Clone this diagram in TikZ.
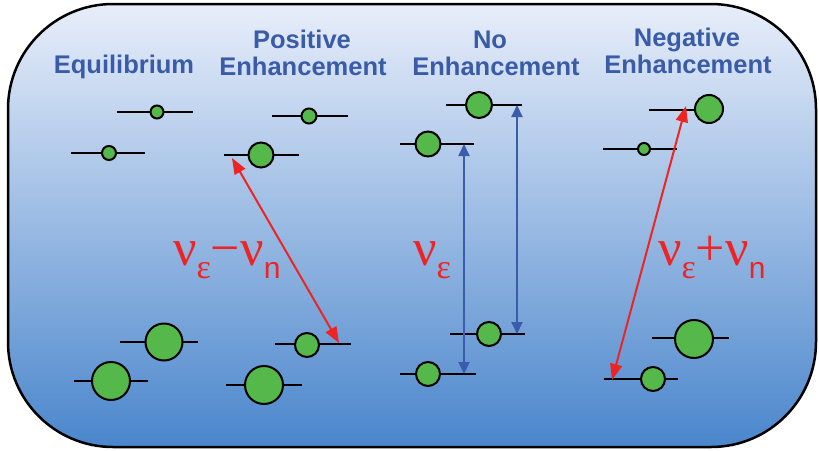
\documentclass[tikz,border=0pt]{standalone}
\usepackage{fontspec}
\setmainfont{Liberation Sans}
\newfontfamily\labfont{Liberation Sans}
\newfontfamily\grkfont{Liberation Serif}
\usetikzlibrary{arrows.meta}
\definecolor{topbg}{HTML}{E8EEFA}
\definecolor{midbg}{HTML}{98BDE6}
\definecolor{botbg}{HTML}{4A86CC}
\definecolor{titleblue}{HTML}{3A5CA8}
\definecolor{atomgreen}{HTML}{55B84A}
\definecolor{arrred}{HTML}{EE2424}
\definecolor{arrblue}{HTML}{3A5CAA}
\tikzset{
  lvl/.style={line width=2pt, black},
  atom/.style={circle, draw=black, line width=2pt, fill=atomgreen, inner sep=0pt},
  titlelbl/.style={font=\labfont\bfseries\fontsize{25.5}{27}\selectfont, text=titleblue, align=center, inner sep=0pt},
  redarr/.style={arrred, line width=2pt, {Triangle[length=16pt,width=12pt]}-{Triangle[length=16pt,width=12pt]}},
  bluearr/.style={arrblue, line width=2pt, {Triangle[length=12pt,width=11pt]}-{Triangle[length=12pt,width=11pt]}},
  mathlbl/.style={text=arrred, inner sep=0pt, anchor=base west}
}
\newcommand{\bignu}{{\grkfont\fontsize{52}{52}\selectfont ν}}
\newcommand{\subeps}{\raisebox{-13pt}{\grkfont\fontsize{34}{34}\selectfont ε}}
\newcommand{\subn}{\raisebox{-13pt}{\labfont\fontsize{30}{30}\selectfont n}}
\begin{document}
\begin{tikzpicture}[x=1pt,y=-1pt]
\useasboundingbox (0,0) rectangle (819,450);
% background
\shade[top color=topbg, middle color=midbg, bottom color=botbg, rounded corners=105pt] (8,4) rectangle (816,447);
\draw[line width=2.5pt, rounded corners=105pt] (8,4) rectangle (816,447);

% titles
\node[titlelbl, anchor=base] (t1) at (124,73) {Equilibrium};
\node[titlelbl, anchor=base] (t2a) at (302,48) {Positive};
\node[titlelbl, anchor=base] (t2b) at (303,75) {Enhancement};
\node[titlelbl, anchor=base] (t3a) at (490,48) {No};
\node[titlelbl, anchor=base] (t3b) at (496,75) {Enhancement};
\node[titlelbl, anchor=base] (t4a) at (687,46) {Negative};
\node[titlelbl, anchor=base] (t4b) at (688,73) {Enhancement};

% Equilibrium
\draw[lvl] (117,112) -- (193,112);
\node[atom, minimum size=13pt] (e1) at (157,112) {};
\draw[lvl] (71,153) -- (145,153);
\node[atom, minimum size=14pt] (e2) at (109,153) {};
\draw[lvl] (120,342) -- (198,342);
\node[atom, minimum size=37pt] (e3) at (164,342) {};
\draw[lvl] (74,381) -- (148,381);
\node[atom, minimum size=38pt] (e4) at (111,381) {};

% Positive enhancement
\draw[lvl] (272,116) -- (348,116);
\node[atom, minimum size=15pt] (p1) at (309,116) {};
\draw[lvl] (224,155) -- (299,155);
\node[atom, minimum size=25pt] (p2) at (261,155) {};
\draw[lvl] (275,344) -- (351,344);
\node[atom, minimum size=24pt] (p3) at (307,345) {};
\draw[lvl] (226,385) -- (302,385);
\node[atom, minimum size=38pt] (p4) at (264,385) {};
\coordinate (pa) at (232,158);
\coordinate (pb) at (339,343);
\draw[redarr] (pa) -- (pb);
\node[mathlbl] (plbl) at (173,265) {\bignu\subeps{\grkfont\fontsize{52}{52}\selectfont −ν}\subn};

% No enhancement
\draw[lvl] (446,105) -- (522,105);
\node[atom, minimum size=26pt] (n1) at (479,105) {};
\draw[lvl] (400,144) -- (474,144);
\node[atom, minimum size=25pt] (n2) at (428,144) {};
\draw[lvl] (450,334) -- (525,334);
\node[atom, minimum size=24pt] (n3) at (489,334) {};
\draw[lvl] (400,374) -- (476,374);
\node[atom, minimum size=24pt] (n4) at (428,374) {};
\coordinate (na1) at (464,144);
\coordinate (na2) at (464,374);
\coordinate (nb1) at (517,105);
\coordinate (nb2) at (517,334);
\draw[bluearr] (na1) -- (na2);
\draw[bluearr] (nb1) -- (nb2);
\node[mathlbl] (nlbl) at (413,265) {\bignu\subeps};

% Negative enhancement
\draw[lvl] (649,110) -- (715,110);
\node[atom, minimum size=28pt] (g1) at (709,109) {};
\draw[lvl] (603,149) -- (677,149);
\node[atom, minimum size=12pt] (g2) at (644,149) {};
\draw[lvl] (652,338) -- (729,338);
\node[atom, minimum size=38pt] (g3) at (694,339) {};
\draw[lvl] (604,379) -- (678,379);
\node[atom, minimum size=24pt] (g4) at (653,379) {};
\coordinate (ga) at (686,106);
\coordinate (gb) at (612,380);
\draw[redarr] (ga) -- (gb);
\node[mathlbl] (glbl) at (658,265) {\bignu\subeps{\grkfont\fontsize{52}{52}\selectfont +ν}\subn};
\end{tikzpicture}
\end{document}
